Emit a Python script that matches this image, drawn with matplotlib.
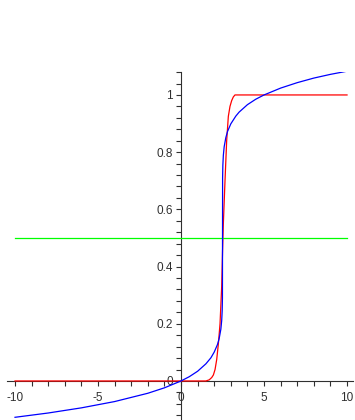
import matplotlib
matplotlib.use("Agg")
import matplotlib.pyplot as plt
from matplotlib.ticker import MultipleLocator, FixedLocator

# steep step-like curve (red)
red_x = [-10, 1.5, 1.7, 1.85, 1.95, 2.05, 2.15, 2.25, 2.35, 2.45, 2.5, 2.55,
         2.65, 2.75, 2.85, 2.95, 3.05, 3.15, 3.25, 10]
red_y = [0.0, 0.0, 0.004, 0.012, 0.021, 0.04, 0.075, 0.13, 0.2, 0.33, 0.45, 0.55,
         0.70, 0.84, 0.925, 0.96, 0.98, 0.993, 1.0, 1.0]

# slow-tailed curve with a vertical jump at x = 2.5 (blue)
blue_x = [-10, -8, -6, -4, -2, -1, 0, 0.5, 1, 1.5, 1.8, 2.0, 2.2, 2.3, 2.4,
          2.45, 2.48, 2.495, 2.5, 2.505, 2.52, 2.55, 2.6, 2.7, 2.8, 3.0, 3.3,
          3.5, 4, 4.5, 5, 6, 7, 8, 9, 10]
blue_y = [-0.127, -0.112, -0.094, -0.072, -0.043, -0.024, 0.0, 0.015, 0.034,
          0.06, 0.081, 0.101, 0.128, 0.149, 0.181, 0.211, 0.246, 0.29, 0.5,
          0.71, 0.754, 0.789, 0.819, 0.851, 0.872, 0.899, 0.926, 0.94, 0.966,
          0.985, 1.0, 1.024, 1.043, 1.059, 1.072, 1.083]

# horizontal reference level (green)
level_x = [-10, 10]
level_y = [0.5, 0.5]

x_labels = [-10, -5, 0, 5, 10]
y_labels = [0, 0.2, 0.4, 0.6, 0.8, 1]

plt.rcParams["font.family"] = ["Liberation Sans", "DejaVu Sans"]

fig = plt.figure(figsize=(3.55, 4.2), dpi=100)
ax = fig.add_axes([0.0189, 0.001, 0.975, 0.8274])

ax.plot(red_x, red_y, color="#ff0000", lw=0.9, zorder=3)
ax.plot(level_x, level_y, color="#00ff00", lw=0.9, zorder=3)
ax.plot(blue_x, blue_y, color="#0000ff", lw=0.9, zorder=4)

ax.set_xlim(-10.5, 10.35)
ax.set_ylim(-0.135, 1.08)

for side in ("top", "right"):
    ax.spines[side].set_visible(False)
ax.spines["left"].set_position(("data", 0))
ax.spines["bottom"].set_position(("data", 0))
for side in ("left", "bottom"):
    ax.spines[side].set_color("#303030")
    ax.spines[side].set_linewidth(0.8)
    ax.spines[side].set_zorder(2)

ax.xaxis.set_major_locator(FixedLocator(x_labels))
ax.xaxis.set_minor_locator(MultipleLocator(1))
ax.yaxis.set_major_locator(FixedLocator(y_labels))
ax.yaxis.set_minor_locator(MultipleLocator(0.04))
ax.set_xticklabels([str(v) for v in x_labels])
ax.set_yticklabels(["0", "0.2", "0.4", "0.6", "0.8", "1"])

ax.tick_params(which="both", direction="out", length=3.3, width=0.8,
               color="#303030", labelsize=8.5, labelcolor="#303030")
ax.tick_params(axis="x", which="major", pad=5)
ax.tick_params(axis="y", which="major", pad=2.5)
ax.patch.set_alpha(0)

fig.savefig("out.png", dpi=100)
